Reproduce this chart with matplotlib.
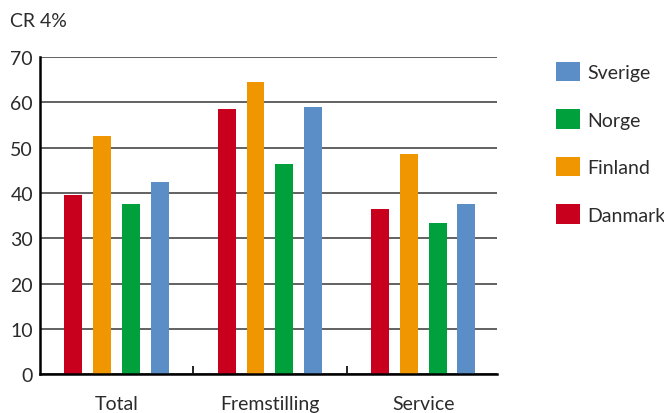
import numpy as np
import matplotlib.pyplot as plt
from matplotlib.patches import Patch

plt.rcParams['font.family'] = ['Lato', 'DejaVu Sans']

categories = ["Total", "Fremstilling", "Service"]
countries = ["Danmark", "Finland", "Norge", "Sverige"]
values = {
    "Danmark": [39.5, 58.5, 36.5],
    "Finland": [52.5, 64.5, 48.5],
    "Norge": [37.5, 46.5, 33.5],
    "Sverige": [42.5, 59.0, 37.5],
}
colors = {
    "Danmark": "#C8001E",
    "Finland": "#F09600",
    "Norge": "#00A03C",
    "Sverige": "#5B8EC6",
}
yticks = [0, 10, 20, 30, 40, 50, 60, 70]

text_color = "#2b2b2b"
fs = 14

fig = plt.figure(figsize=(6.64, 4.14), dpi=100)
ax = fig.add_axes([0.0602, 0.093, 0.688, 0.767])

x = np.arange(len(categories))
width = 0.117
step = 0.188
offsets = (np.arange(len(countries)) - 1.5) * step

for i, c in enumerate(countries):
    ax.bar(x + offsets[i], values[c], width=width, color=colors[c], zorder=3)

ax.set_xlim(-0.5, 2.48)
ax.set_ylim(0, 70)
ax.set_yticks(yticks)
ax.yaxis.grid(True, color="#555555", linewidth=1.3, zorder=0)
ax.tick_params(axis="y", length=0, labelsize=fs, labelcolor=text_color, pad=5)

# group labels on major ticks, small separators between groups
ax.set_xticks(x)
ax.set_xticklabels(categories)
ax.set_xticks([0.5, 1.5], minor=True)
ax.tick_params(axis="x", which="major", length=0, labelsize=fs,
               labelcolor=text_color, pad=15)
ax.tick_params(axis="x", which="minor", direction="in", length=6,
               width=1.2, color="black")

for side in ["top", "right"]:
    ax.spines[side].set_visible(False)
ax.spines["left"].set_linewidth(1.8)
ax.spines["bottom"].set_linewidth(1.8)
ax.spines["left"].set_zorder(4)
ax.spines["bottom"].set_zorder(4)

fig.text(0.015, 0.948, "CR 4%", fontsize=fs, color=text_color,
         ha="left", va="center")

handles = [Patch(facecolor=colors[c], edgecolor="none", label=c)
           for c in ["Sverige", "Norge", "Finland", "Danmark"]]
fig.legend(handles=handles, loc="upper left", bbox_to_anchor=(0.837, 0.848),
           frameon=False, fontsize=fs, handlelength=1.25, handleheight=1.15,
           handletextpad=0.35, labelspacing=1.45, labelcolor=text_color,
           borderaxespad=0, borderpad=0)

fig.savefig("out.png", dpi=100)
